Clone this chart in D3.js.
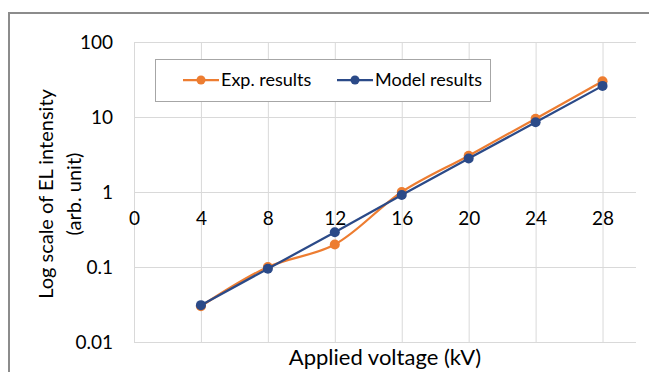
<!DOCTYPE html>
<html>
<head>
<meta charset="utf-8">
<script src="https://cdn.jsdelivr.net/npm/d3@7"></script>
<style>
  body { margin: 0; background: #fff; }
  text { font-family: Lato, "Open Sans", sans-serif; fill: #000; }
</style>
</head>
<body>
<div id="chart"></div>
<script>
const width = 649;
const height = 372;

// data
const voltages = [4, 8, 12, 16, 20, 24, 28];
const expResults = [0.03, 0.1, 0.2, 1.0, 3.05, 9.5, 30];
const modelResults = [0.031, 0.095, 0.29, 0.91, 2.8, 8.5, 26];
const xTicks = [0, 4, 8, 12, 16, 20, 24, 28];
const yTicks = [0.01, 0.1, 1, 10, 100];
const yTickLabels = ["0.01", "0.1", "1", "10", "100"];
const seriesNames = ["Exp. results", "Model results"];
const seriesColors = ["#ed7d31", "#2b4a88"];

const plot = { left: 134, right: 636, top: 42, bottom: 342 };

const x = d3.scaleLinear().domain([0, 30]).range([plot.left, plot.right]);
const y = d3.scaleLog().domain([0.01, 100]).range([plot.bottom, plot.top]);

const svg = d3.select("#chart")
    .append("svg")
    .attr("width", width)
    .attr("height", height);

// chart frame (runs off the right and bottom of the picture)
svg.append("rect")
    .attr("x", 9)
    .attr("y", 13)
    .attr("width", 700)
    .attr("height", 400)
    .attr("fill", "#fff")
    .attr("stroke", "#8c8c8c")
    .attr("stroke-width", 2);

// gridlines
const grid = svg.append("g").attr("class", "grid");
grid.append("g")
    .attr("transform", `translate(0,${plot.bottom})`)
    .call(d3.axisBottom(x).tickValues(xTicks).tickSize(-(plot.bottom - plot.top)).tickFormat(""))
    .call(g => g.select(".domain").remove());
grid.append("g")
    .attr("transform", `translate(${plot.left},0)`)
    .call(d3.axisLeft(y).tickValues(yTicks).tickSize(-(plot.right - plot.left)).tickFormat(""))
    .call(g => g.select(".domain").remove());
grid.selectAll("line")
    .attr("stroke", "#d9d9d9")
    .attr("stroke-width", 1);

// y axis labels
svg.append("g")
    .attr("transform", `translate(${plot.left},0)`)
    .call(d3.axisLeft(y).tickValues(yTicks).tickSize(0).tickPadding(21)
        .tickFormat((d, i) => yTickLabels[i]))
    .call(g => g.select(".domain").remove())
    .selectAll("text")
    .attr("font-family", "Lato, sans-serif")
    .attr("font-size", 19);

// x axis labels, crossing at y = 1
svg.append("g")
    .attr("transform", `translate(0,${y(1)})`)
    .call(d3.axisBottom(x).tickValues(xTicks).tickSize(0))
    .call(g => g.select(".domain").remove())
    .selectAll("text")
    .attr("y", 26)
    .attr("dy", "0.35em")
    .attr("font-family", "Lato, sans-serif")
    .attr("font-size", 19);

// axis titles
svg.append("text")
    .attr("x", (plot.left + plot.right) / 2)
    .attr("y", 365)
    .attr("text-anchor", "middle")
    .attr("font-size", 22)
    .text("Applied voltage (kV)");

const yTitle = svg.append("text")
    .attr("transform", `translate(0,${(plot.top + plot.bottom) / 2 + 2}) rotate(-90)`)
    .attr("text-anchor", "middle")
    .attr("font-size", 20);
yTitle.append("tspan").attr("x", 0).attr("y", 53).text("Log scale of EL intensity");
yTitle.append("tspan").attr("x", 0).attr("y", 81).text("(arb. unit)");

// series
const smoothLine = d3.line()
    .x((d, i) => x(voltages[i]))
    .y(d => y(d))
    .curve(d3.curveCatmullRom.alpha(0.5));
const straightLine = d3.line()
    .x((d, i) => x(voltages[i]))
    .y(d => y(d));

const series = [
    { values: expResults, line: smoothLine, color: seriesColors[0] },
    { values: modelResults, line: straightLine, color: seriesColors[1] }
];

series.forEach(s => {
    const g = svg.append("g");
    g.append("path")
        .attr("d", s.line(s.values))
        .attr("fill", "none")
        .attr("stroke", s.color)
        .attr("stroke-width", 2.25);
    g.selectAll("circle")
        .data(s.values)
        .join("circle")
        .attr("cx", (d, i) => x(voltages[i]))
        .attr("cy", d => y(d))
        .attr("r", 5)
        .attr("fill", s.color);
});

// legend
const legend = svg.append("g");
legend.append("rect")
    .attr("x", 155.5)
    .attr("y", 59.5)
    .attr("width", 335)
    .attr("height", 42)
    .attr("fill", "#fff")
    .attr("stroke", "#a6a6a6")
    .attr("stroke-width", 1);

const legendX = [183, 337];
seriesNames.forEach((name, i) => {
    const lx = legendX[i];
    legend.append("line")
        .attr("x1", lx).attr("x2", lx + 36)
        .attr("y1", 80).attr("y2", 80)
        .attr("stroke", seriesColors[i])
        .attr("stroke-width", 2.25);
    legend.append("circle")
        .attr("cx", lx + 18)
        .attr("cy", 80)
        .attr("r", 4.5)
        .attr("fill", seriesColors[i]);
    legend.append("text")
        .attr("x", lx + 38)
        .attr("y", 80)
        .attr("dy", "0.35em")
        .attr("font-size", 18)
        .text(name);
});
</script>
</body>
</html>
